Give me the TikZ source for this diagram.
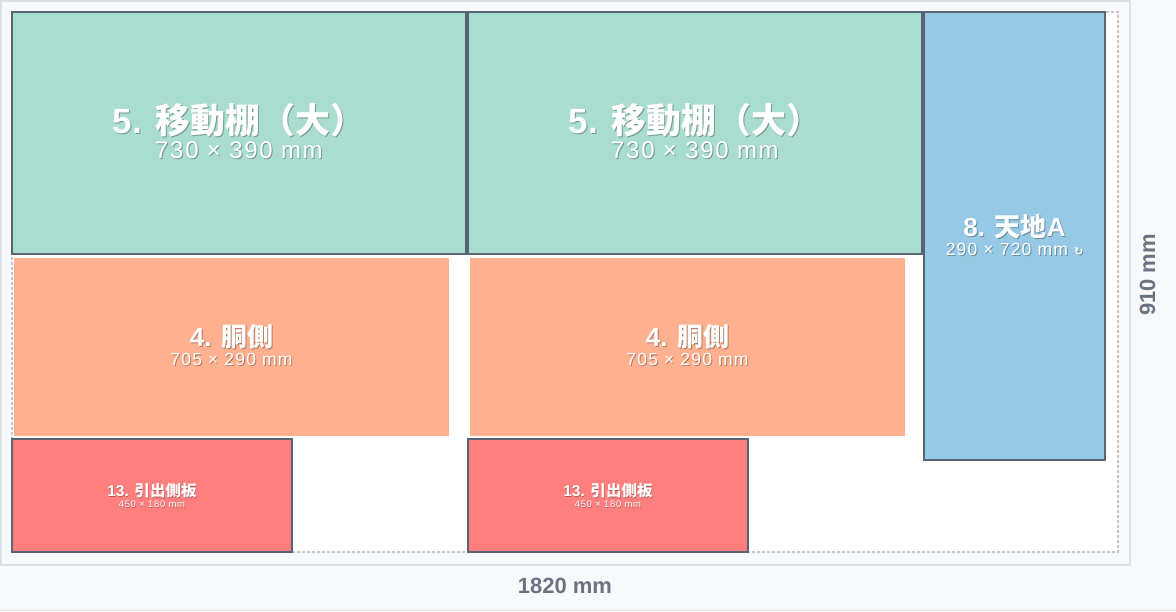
\documentclass[tikz,border=0pt]{standalone}
\usepackage{fontspec}
\usepackage{xcolor}
\setmainfont{Liberation Sans}
\newfontfamily\jpfont{Noto Sans CJK JP}
\newfontfamily\dimfont{Liberation Sans}[LetterSpace=7]
\newfontfamily\symfont{DejaVu Sans}
\definecolor{bg}{HTML}{F8F9FB}
\definecolor{panel}{HTML}{DDE0E5}
\definecolor{board}{HTML}{C3C6CC}
\definecolor{edge}{HTML}{5A6372}
\definecolor{label}{HTML}{6B7280}
\definecolor{shelf}{HTML}{A8DDD0}
\definecolor{side}{HTML}{FFB08E}
\definecolor{top}{HTML}{96C9E6}
\definecolor{drawer}{HTML}{FF7F7F}

\begin{document}
\begin{tikzpicture}[x=1pt,y=-1pt,
  piece/.style={draw=edge,line width=1.3pt},
  title/.style={anchor=base,text=white,font=\fontsize{#1}{#1}\selectfont\bfseries},
  dims/.style={anchor=base,text=white,font=\dimfont\fontsize{#1}{#1}\selectfont},
  halo/.style={text=black,opacity=.3}]
\useasboundingbox (0,0) rectangle (1176,611);
\fill[bg] (0,0) rectangle (1176,611);
\draw[panel,line width=1.5pt] (0,610.5) -- (1176,610.5);
\draw[panel,line width=1.5pt,fill=bg] (1,1) rectangle (1130,565);
\draw[board,line width=1.2pt,dash pattern=on 3pt off 2pt,fill=white] (12,12) rectangle (1118,552);

% pieces
\draw[piece,fill=shelf] (12,12) rectangle (466,254);
\draw[piece,fill=shelf] (468,12) rectangle (922,254);
\draw[piece,fill=top] (924,12) rectangle (1105,460);
\fill[side] (14,258) rectangle (449,436);
\fill[side] (470,258) rectangle (905,436);
\draw[piece,fill=drawer] (12,439) rectangle (292,552);
\draw[piece,fill=drawer] (468,439) rectangle (748,552);

% labels
\node[title=35,halo] (s5a-sh) at (240,134.5) {5. {\jpfont 移動棚（大）}};
\node[title=35] (s5a) at (239,133) {5. {\jpfont 移動棚（大）}};
\node[dims=24,halo] (d5a-sh) at (240,159.5) {730 × 390 mm};
\node[dims=24] (d5a) at (239,158) {730 × 390 mm};
\node[title=35,halo] (s5b-sh) at (696,134.5) {5. {\jpfont 移動棚（大）}};
\node[title=35] (s5b) at (695,133) {5. {\jpfont 移動棚（大）}};
\node[dims=24,halo] (d5b-sh) at (696,159.5) {730 × 390 mm};
\node[dims=24] (d5b) at (695,158) {730 × 390 mm};

\node[title=26,halo] (s8-sh) at (1015.5,237.5) {8. {\jpfont 天地}A};
\node[title=26] (s8) at (1014.5,236) {8. {\jpfont 天地}A};
\node[dims=17.5,halo] (d8-sh) at (1015.5,256.5) {290 × 720 mm {\symfont\bfseries\fontsize{11}{11}\selectfont ↻}};
\node[dims=17.5] (d8) at (1014.5,255) {290 × 720 mm {\symfont\bfseries\fontsize{11}{11}\selectfont ↻}};

\node[title=26,halo] (s4a-sh) at (232.5,347.5) {4. {\jpfont 胴側}};
\node[title=26] (s4a) at (231.5,346) {4. {\jpfont 胴側}};
\node[dims=17.5,halo] (d4a-sh) at (232.5,366.5) {705 × 290 mm};
\node[dims=17.5] (d4a) at (231.5,365) {705 × 290 mm};
\node[title=26,halo] (s4b-sh) at (688.5,347.5) {4. {\jpfont 胴側}};
\node[title=26] (s4b) at (687.5,346) {4. {\jpfont 胴側}};
\node[dims=17.5,halo] (d4b-sh) at (688.5,366.5) {705 × 290 mm};
\node[dims=17.5] (d4b) at (687.5,365) {705 × 290 mm};

\node[title=15.5,halo] (s13a-sh) at (152.5,497.5) {13. {\jpfont 引出側板}};
\node[title=15.5] (s13a) at (152,496.5) {13. {\jpfont 引出側板}};
\node[dims=9.5,halo] (d13a-sh) at (152.5,508.5) {450 × 180 mm};
\node[dims=9.5] (d13a) at (152,507.5) {450 × 180 mm};
\node[title=15.5,halo] (s13b-sh) at (608.5,497.5) {13. {\jpfont 引出側板}};
\node[title=15.5] (s13b) at (608,496.5) {13. {\jpfont 引出側板}};
\node[dims=9.5,halo] (d13b-sh) at (608.5,508.5) {450 × 180 mm};
\node[dims=9.5] (d13b) at (608,507.5) {450 × 180 mm};

% board size
\node[anchor=base,text=label,font=\fontsize{22}{22}\selectfont\bfseries] (width) at (565,593) {1820 mm};
\node[anchor=base,rotate=90,text=label,font=\fontsize{22}{22}\selectfont\bfseries] (height) at (1155,275) {910 mm};
\end{tikzpicture}
\end{document}
